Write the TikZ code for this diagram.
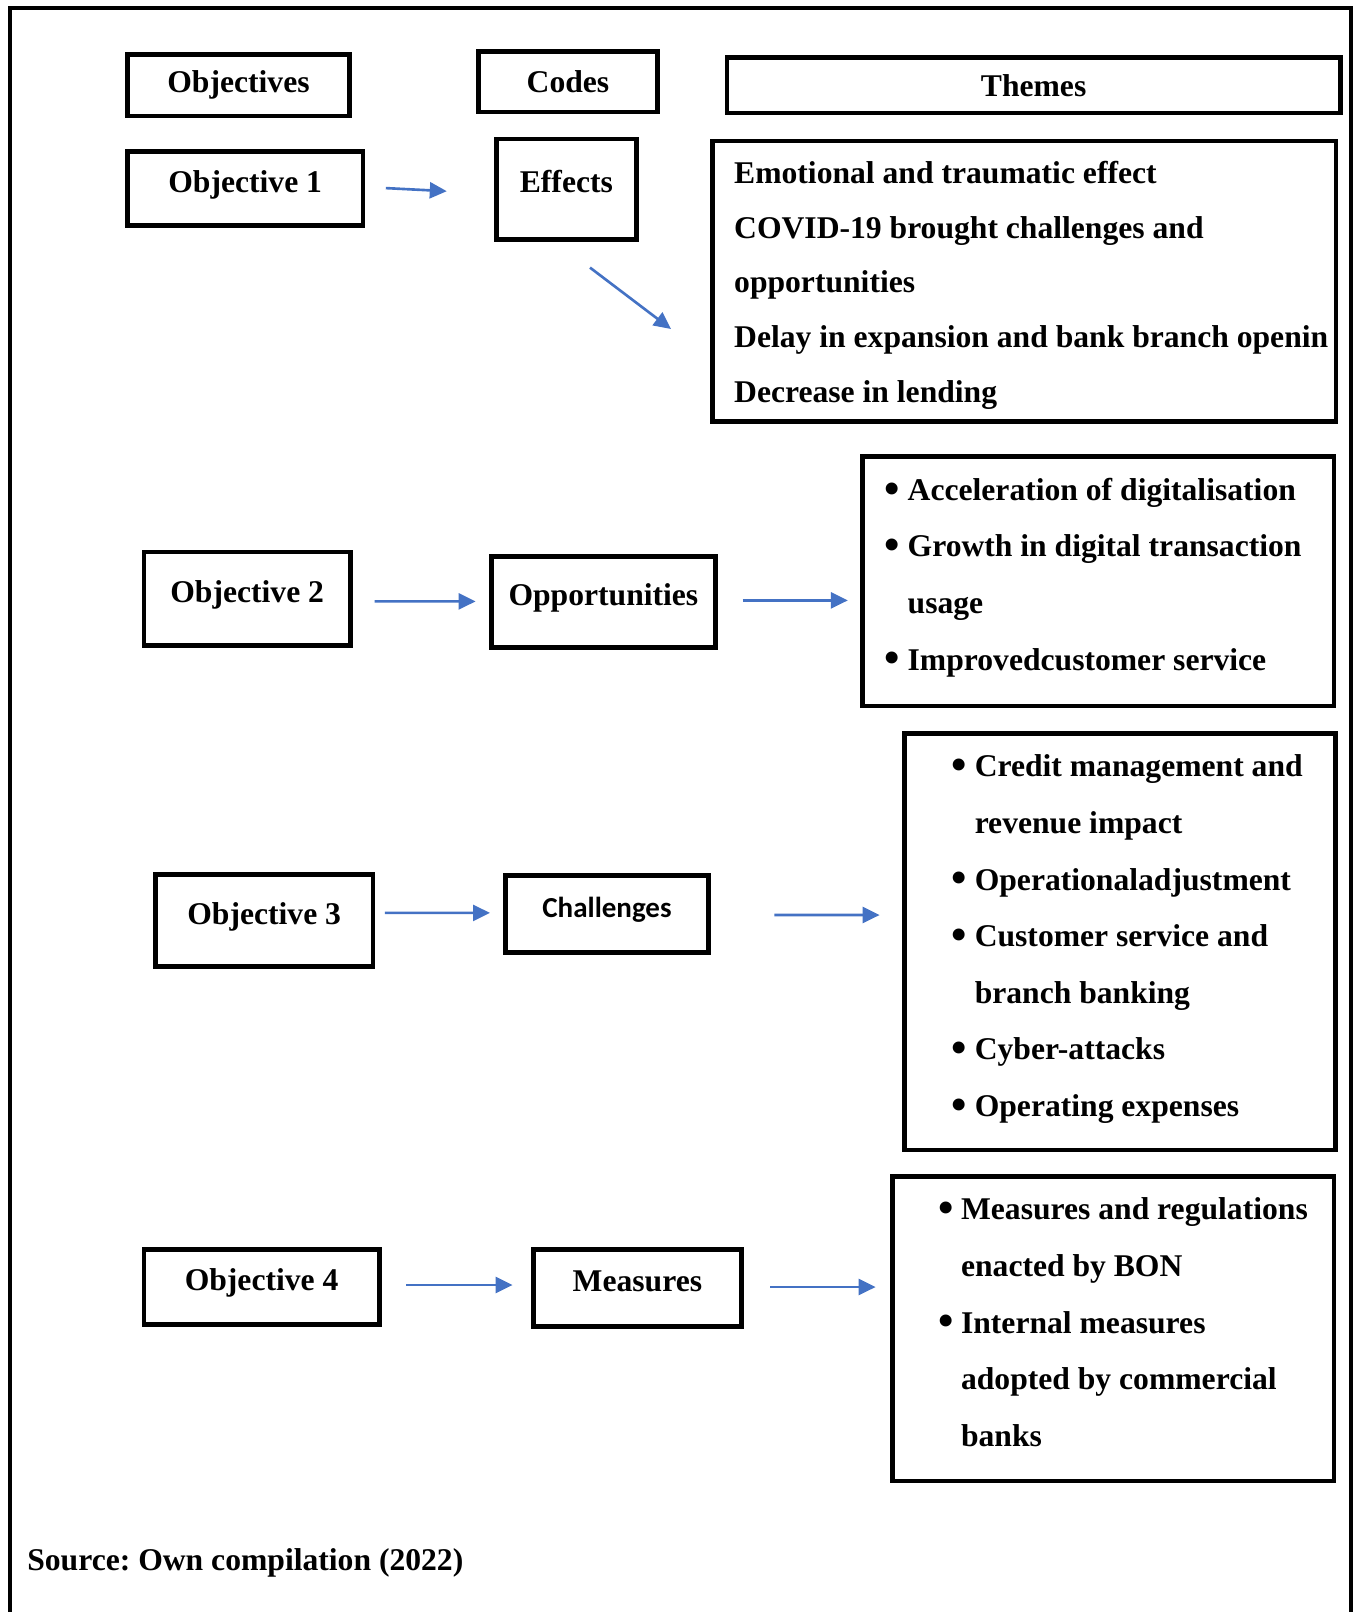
\documentclass[tikz,border=0pt]{standalone}
\usepackage{fontspec}
\setmainfont{Liberation Serif}
\newfontfamily\calibri{Carlito}
\usepackage{tikz}
\usetikzlibrary{positioning,arrows.meta,calc}
\tikzset{caja/.style={draw,line width=2.7pt}}
\tikzset{alto/.style={text height=12.4pt,text depth=8.5pt}}
\tikzset{lista/.style={inner sep=0pt,align=left}}
\tikzset{flecha/.style={draw=wordblue,line width=1.5pt,-{Triangle[length=0.34cm,width=0.32cm]}}}
\tikzset{marco/.style={line width=2pt}}
\definecolor{wordblue}{RGB}{68,114,196}
\newcommand{\bul}{\makebox[0.46cm][l]{\raisebox{-1.6pt}{\fontsize{25}{0}\selectfont\textbullet}}}
\newcommand{\sang}{\hspace*{0.46cm}}
\frenchspacing

\begin{document}
\begin{tikzpicture}[x=0.02cm, y=-0.02cm, every node/.style={font=\bfseries\fontsize{18}{32.2}\selectfont}]
            \useasboundingbox (0,0) rectangle (1357,1612);
            \draw[marco] (10,1612) -- (10,8) -- (1351,8) -- (1351,1612);

            % cabeceras
            \node[caja, minimum width=4.43cm, minimum height=1.23cm] (h1) at (238.5,85.3) {Objectives};
            \node[caja, minimum width=3.59cm, minimum height=1.21cm] (h2) at (568,81.7) {Codes};
            \node[caja, minimum width=12.27cm, minimum height=1.11cm] (h3) at (1033.6,85.3) {Themes};

            % fila 1
            \node[caja, alto, minimum width=4.71cm, minimum height=1.49cm] (o1) at (245.2,188.6) {Objective 1};
            \node[caja, alto, minimum width=2.79cm, minimum height=2.01cm] (c1) at (566.4,189.2) {Effects};
            \node[caja, minimum width=12.47cm, minimum height=5.61cm] (t1) at (1024.4,281.2) {};
            \node[lista, font=\bfseries\fontsize{18}{31.2}\selectfont,
                  below right=0.44cm and 0.47cm of t1.north west] (l1)
                {Emotional and traumatic effect\\COVID-19 brought challenges and\\opportunities\\Delay in expansion and bank branch openin\\Decrease in lending};

            % fila 2
            \node[caja, alto, minimum width=4.13cm, minimum height=1.87cm] (o2) at (247.2,598.8) {Objective 2};
            \node[caja, alto, minimum width=4.47cm, minimum height=1.83cm] (c2) at (603.4,601.9) {Opportunities};
            \node[caja, minimum width=9.43cm, minimum height=4.99cm] (t2) at (1098.4,581.3) {};
            \node[lista, below right=0.47cm and 0.48cm of t2.north west] (l2)
                {\bul Acceleration of digitalisation\\\bul Growth in digital transaction\\\sang usage\\\bul Improvedcustomer service};

            % fila 3
            \node[caja, alto, minimum width=4.35cm, minimum height=1.83cm] (o3) at (264.2,920.6) {Objective 3};
            \node[caja, alto, minimum width=4.05cm, minimum height=1.55cm,
                  font=\calibri\bfseries\fontsize{16.5}{20}\selectfont] (c3) at (607,913.9) {Challenges};
            \node[caja, minimum width=8.61cm, minimum height=8.33cm] (t3) at (1120,941.7) {};
            \node[lista, below right=0.47cm and 0.98cm of t3.north west] (l3)
                {\bul Credit management and\\\sang revenue impact\\\bul Operationaladjustment\\\bul Customer service and\\\sang branch banking\\\bul Cyber-attacks\\\bul Operating expenses};

            % fila 4
            \node[caja, alto, minimum width=4.71cm, minimum height=1.51cm] (o4) at (261.6,1287) {Objective 4};
            \node[caja, alto, minimum width=4.15cm, minimum height=1.55cm] (c4) at (637.4,1288.1) {Measures};
            \node[caja, minimum width=8.83cm, minimum height=6.09cm] (t4) at (1113.3,1328.7) {};
            \node[lista, below right=0.47cm and 0.95cm of t4.north west] (l4)
                {\bul Measures and regulations\\\sang enacted by BON\\\bul Internal measures\\\sang adopted by commercial\\\sang banks};

            \node[anchor=base west, inner sep=0pt] (src) at (27,1570) {Source: Own compilation (2022)};

            % flechas
            \draw[flecha] ($(o1.east)+(20.5,-0.5)$) -- ($(c1.west)+(-47.5,2)$);
            \draw[flecha] ($(c1.south)+(23.6,25.8)$) -- ($(t1.west)+(-39.4,47.8)$);
            \draw[flecha] ($(o2.east)+(21.7,2.6)$) -- ($(c2.west)+(-13.7,-0.5)$);
            \draw[flecha] ($(c2.east)+(25,-1.5)$) -- ($(t2.west)+(-12.5,19.1)$);
            \draw[flecha] ($(o3.east)+(9.5,-7.7)$) -- ($(c3.west)+(-13.4,-1)$);
            \draw[flecha] ($(c3.east)+(63.8,1.1)$) -- ($(t3.west)+(-22.8,-26.7)$);
            \draw[flecha] ($(o4.east)+(24.7,-2)$) -- ($(c4.west)+(-18.7,-3.1)$);
            \draw[flecha] ($(c4.east)+(26.9,-1.1)$) -- ($(t4.west)+(-14.6,-41.7)$);
        \end{tikzpicture}
\end{document}
